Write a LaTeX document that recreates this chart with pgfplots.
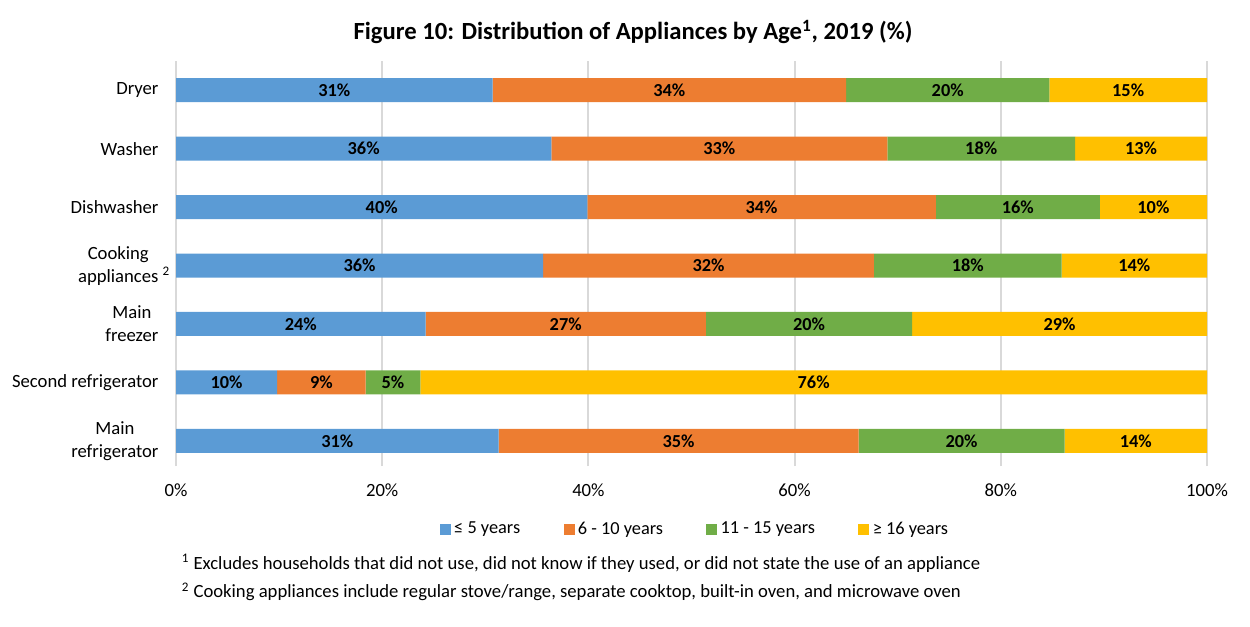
\documentclass[border=0pt]{standalone}
\usepackage{pgfplots}
\usepackage{pgfplotstable}
\usepackage{fontspec}
\setmainfont{Carlito}
\pgfplotsset{compat=1.18}

\definecolor{cBlue}{HTML}{5B9BD5}
\definecolor{cOrange}{HTML}{ED7D31}
\definecolor{cGreen}{HTML}{70AD47}
\definecolor{cYellow}{HTML}{FFC000}
\definecolor{cGrid}{HTML}{D9D9D9}

% Rows: 0 Main refrigerator, 1 Second refrigerator, 2 Main freezer,
% 3 Cooking appliances, 4 Dishwasher, 5 Washer, 6 Dryer
% a: <=5 years, b: 6-10 years, c: 11-15 years, d: >=16 years
\pgfplotstableread{
y a    b    c    d
0 31.3 34.9 20.0 13.8
1 9.8  8.6  5.3  76.3
2 24.2 27.2 20.0 28.6
3 35.6 32.1 18.2 14.1
4 39.9 33.8 15.9 10.4
5 36.4 32.6 18.2 12.8
6 30.7 34.3 19.7 15.3
}\data

% centre of each segment, where its label goes
\pgfplotstablecreatecol[create col/expr={\thisrow{a}/2}]{ma}\data
\pgfplotstablecreatecol[create col/expr={\thisrow{a}+\thisrow{b}/2}]{mb}\data
\pgfplotstablecreatecol[create col/expr={\thisrow{a}+\thisrow{b}+\thisrow{c}/2}]{mc}\data
\pgfplotstablecreatecol[create col/expr={\thisrow{a}+\thisrow{b}+\thisrow{c}+\thisrow{d}/2}]{md}\data

\pgfplotsset{
  frame/.style={
    at={(105.6pt,96pt)}, anchor=south west,
    scale only axis, width=618.6pt, height=243pt,
    xmin=0, xmax=100, ymin=-0.43, ymax=6.5,
    /pgf/number format/assume math mode=true,
  },
}

\begin{document}
\begin{tikzpicture}
\useasboundingbox (0,0) rectangle (750pt,375.6pt);
\node[font=\fontsize{14.8}{17}\selectfont\bfseries] at (379.8pt,356.4pt)
  {Figure 10: Distribution of Appliances by Age\textsuperscript{1}, 2019 (\%)};
\begin{axis}[
  frame,
  xbar stacked, bar width=14.4pt,
  xtick={0,20,...,100},
  xticklabel={\pgfmathprintnumber{\tick}\%},
  xticklabel style={font=\fontsize{11.2}{13}\selectfont, yshift=-7pt},
  ytick={0,...,6},
  yticklabels={{Main\\refrigerator},{Second refrigerator},{Main\\freezer},{Cooking\\appliances\rlap{ \textsuperscript{2}}},{Dishwasher},{Washer},{Dryer}},
  yticklabel style={align=center, font=\fontsize{11.2}{13.8}\selectfont, xshift=-7pt},
  major tick length=0pt,
  axis line style={draw=none},
  xmajorgrids, major grid style={cGrid, line width=1.1pt},
  legend columns=4,
  legend style={at={(0.504,-0.156)}, anchor=center, draw=none, font=\fontsize{11}{13}\selectfont,
    /tikz/every even column/.append style={column sep=24pt}},
  legend image code/.code={\fill[#1] (0pt,-3.3pt) rectangle (6.6pt,3.3pt);},
]
\addplot[fill=cBlue, draw=none] table[x=a, y=y] \data;
\addplot[fill=cOrange, draw=none] table[x=b, y=y] \data;
\addplot[fill=cGreen, draw=none] table[x=c, y=y] \data;
\addplot[fill=cYellow, draw=none] table[x=d, y=y] \data;
\legend{≤ 5 years, 6 - 10 years, 11 - 15 years, ≥ 16 years}
\end{axis}
% value labels in the middle of each segment
\begin{axis}[
  frame, hide axis,
  point meta=explicit,
  nodes near coords={\pgfmathprintnumber[fixed,precision=0]{\pgfplotspointmeta}\%},
  every node near coord/.append style={anchor=center, font=\fontsize{11}{13}\selectfont\bfseries, text=black},
]
\addplot[draw=none, mark=none] table[x=ma, y=y, meta=a] \data;
\addplot[draw=none, mark=none] table[x=mb, y=y, meta=b] \data;
\addplot[draw=none, mark=none] table[x=mc, y=y, meta=c] \data;
\addplot[draw=none, mark=none] table[x=md, y=y, meta=d] \data;
\end{axis}
\node[anchor=west, font=\fontsize{11.2}{13}\selectfont] at (105.6pt,37.8pt)
  {\textsuperscript{1} Excludes households that did not use, did not know if they used, or did not state the use of an appliance};
\node[anchor=west, font=\fontsize{11.2}{13}\selectfont] at (105.6pt,20.4pt)
  {\textsuperscript{2} Cooking appliances include regular stove/range, separate cooktop, built-in oven, and microwave oven};
\end{tikzpicture}
\end{document}
